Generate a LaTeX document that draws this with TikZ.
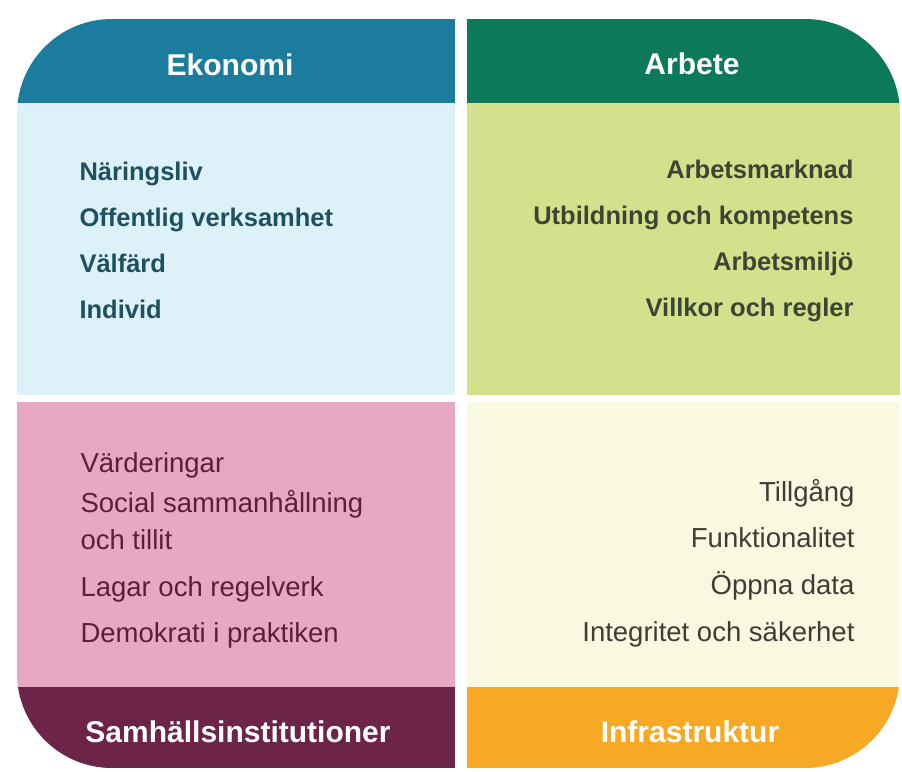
\documentclass[tikz,border=0pt]{standalone}
\usepackage{fontspec}
\setmainfont{Liberation Sans}

\definecolor{ekoMork}{RGB}{27,124,157}
\definecolor{ekoLjus}{RGB}{220,242,248}
\definecolor{ekoText}{RGB}{30,80,96}
\definecolor{arbMork}{RGB}{12,121,90}
\definecolor{arbLjus}{RGB}{213,224,140}
\definecolor{arbText}{RGB}{60,68,52}
\definecolor{samMork}{RGB}{108,36,73}
\definecolor{samLjus}{RGB}{230,168,195}
\definecolor{samText}{RGB}{91,31,56}
\definecolor{infMork}{RGB}{247,169,37}
\definecolor{infLjus}{RGB}{249,248,225}
\definecolor{infText}{RGB}{61,61,53}

\tikzset{
    rubrik/.style={font=\fontsize{30}{34}\selectfont\bfseries, text=white, anchor=base},
    ovre/.style={font=\fontsize{25.5}{30}\selectfont\bfseries},
    nedre/.style={font=\fontsize{27.5}{32}\selectfont}
}

\begin{document}
\begin{tikzpicture}[x=1pt, y=1pt]
\useasboundingbox (0,0) rectangle (902,771);

% Ekonomi
\begin{scope}
    \clip (17,376) -- (17,657) arc (180:90:95) -- (455,752) -- (455,376) -- cycle;
    \fill[ekoLjus] (17,376) rectangle (455,668);
    \fill[ekoMork] (17,668) rectangle (455,752);
    %\fill[white, opacity=.12] (17,722) rectangle (455,752);
\end{scope}
\node[rubrik] (ekonomi) at (230,695) {Ekonomi};
\foreach \nm/\yy/\txt in {naring/590/Näringsliv, offentlig/544/Offentlig verksamhet,
    valfard/498/Välfärd, individ/452/Individ}
    \node[ovre, text=ekoText, anchor=base west] (\nm) at (76,\yy) {\txt};

% Arbete
\begin{scope}
    \clip (467,376) -- (467,752) -- (805,752) arc (90:0:95) -- (900,376) -- cycle;
    \fill[arbLjus] (467,376) rectangle (900,668);
    \fill[arbMork] (467,668) rectangle (900,752);
\end{scope}
\node[rubrik] (arbete) at (692,696) {Arbete};
\foreach \nm/\yy/\txt in {marknad/592/Arbetsmarknad, utbildning/546/Utbildning och kompetens,
    miljo/500/Arbetsmiljö, villkor/454/Villkor och regler}
    \node[ovre, text=arbText, anchor=base east] (\nm) at (857,\yy) {\txt};

% Samhällsinstitutioner
\begin{scope}
    \clip (17,369) -- (17,98) arc (180:270:95) -- (455,3) -- (455,369) -- cycle;
    \fill[samLjus] (17,84) rectangle (455,369);
    \fill[samMork] (17,3) rectangle (455,84);
\end{scope}
\node[rubrik] (samhalle) at (238,28) {Samhällsinstitutioner};
\foreach \nm/\yy/\txt in {varde/298/Värderingar, social/258/Social sammanhållning,
    tillit/221/och tillit, lagar/174/Lagar och regelverk, demokrati/128/Demokrati i praktiken}
    \node[nedre, text=samText, anchor=base west] (\nm) at (77,\yy) {\txt};

% Infrastruktur
\begin{scope}
    \clip (467,369) -- (467,3) -- (805,3) arc (270:360:95) -- (900,369) -- cycle;
    \fill[infLjus] (467,84) rectangle (900,369);
    \fill[infMork] (467,3) rectangle (900,84);
\end{scope}
\node[rubrik] (infra) at (690,29) {Infrastruktur};
\foreach \nm/\yy/\txt in {tillgang/269/Tillgång, funktion/223/Funktionalitet,
    oppna/176/Öppna data, integritet/129/Integritet och säkerhet}
    \node[nedre, text=infText, anchor=base east] (\nm) at (858,\yy) {\txt};

%\draw[red] (0,0) rectangle (902,771);
\end{tikzpicture}
\end{document}
